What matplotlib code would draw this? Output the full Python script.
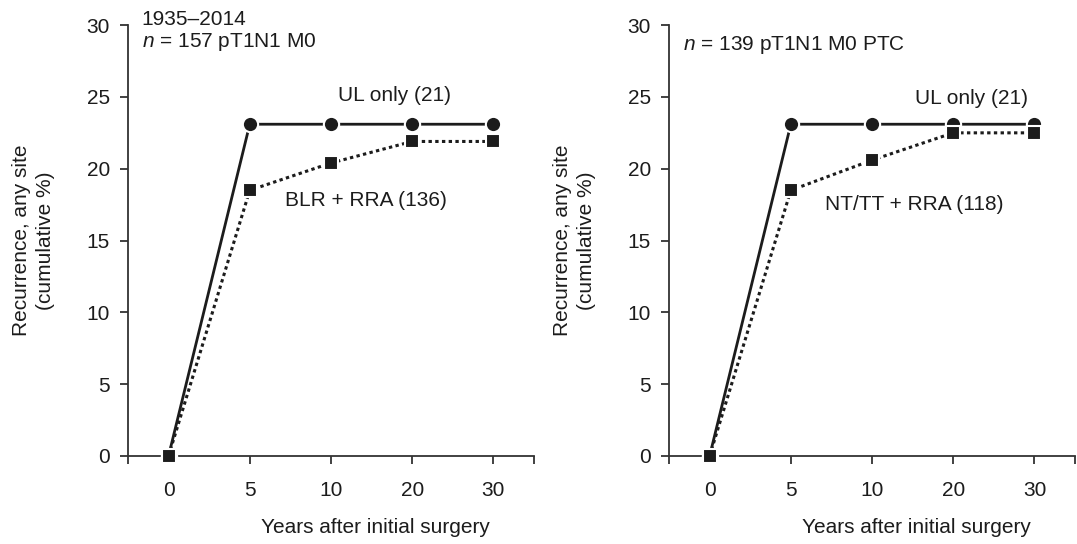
import numpy as np
import matplotlib
matplotlib.use("Agg")
import matplotlib.pyplot as plt

plt.rcParams['font.family'] = ['Liberation Sans', 'DejaVu Sans']
plt.rcParams['mathtext.fontset'] = 'custom'
plt.rcParams['mathtext.it'] = 'Liberation Sans:italic'
plt.rcParams['mathtext.rm'] = 'Liberation Sans'

years = ['0', '5', '10', '20', '30']

# left panel: 1935-2014, n = 157
left_ul = [0, 23.1, 23.1, 23.1, 23.1]
left_blr = [0, 18.5, 20.4, 21.9, 21.9]

# right panel: n = 139 PTC
right_ul = [0, 23.1, 23.1, 23.1, 23.1]
right_nt = [0, 18.5, 20.6, 22.5, 22.5]

ink = '#1c1c1c'
axc = '#333333'
fs = 15

fig = plt.figure(figsize=(10.77, 5.44), dpi=100)
ax1 = fig.add_axes([0.1188, 0.1618, 0.377, 0.792])
ax2 = fig.add_axes([0.6212, 0.1618, 0.377, 0.792])


def draw(ax, ul, other, ul_lab, other_lab, ul_xy, other_xy):
    x = np.arange(len(years))
    ax.plot(x, ul, color=ink, lw=2, marker='o', ms=11, mfc=ink,
            mec='white', mew=1.5, clip_on=False, zorder=3)
    ax.plot(x, other, color=ink, lw=2.2, ls=(0, (1.1, 1.1)), marker='s',
            ms=9.5, mfc=ink, mec='white', mew=1.5, clip_on=False, zorder=4)
    ax.text(*ul_xy, ul_lab, ha='center', va='center', fontsize=fs, color=ink)
    ax.text(*other_xy, other_lab, ha='center', va='center', fontsize=fs,
            color=ink)

    ax.set_xlim(-0.5, 4.5)
    ax.set_ylim(0, 30)
    ax.set_xticks(x)
    ax.set_xticklabels(years)
    ax.set_xticks([-0.5, 4.5], minor=True)
    ax.set_yticks(range(0, 31, 5))
    for s in ['top', 'right']:
        ax.spines[s].set_visible(False)
    for s in ['left', 'bottom']:
        ax.spines[s].set_color(axc)
        ax.spines[s].set_linewidth(1.3)
    ax.tick_params(axis='both', which='both', length=6, width=1.3,
                   color=axc, labelsize=fs, labelcolor=ink)
    ax.tick_params(axis='x', pad=12)
    ax.tick_params(axis='y', pad=7)

    ax.set_xlabel('Years after initial surgery', fontsize=fs, color=ink)
    ax.xaxis.set_label_coords(0.61, -0.143)
    ax.set_ylabel('Recurrence, any site\n(cumulative %)', fontsize=fs,
                  color=ink, linespacing=1.3)
    ax.yaxis.set_label_coords(-0.18, 0.5)


draw(ax1, left_ul, left_blr, 'UL only (21)', 'BLR + RRA (136)',
     (2.78, 25.1), (2.43, 17.8))
draw(ax2, right_ul, right_nt, 'UL only (21)', 'NT/TT + RRA (118)',
     (3.22, 24.9), (2.52, 17.5))

ax1.text(0.034, 1.0, '1935–2014', transform=ax1.transAxes,
         ha='left', va='baseline', fontsize=fs, color=ink)
ax1.text(0.034, 0.949, '$n$ = 157 pT1N1 M0', transform=ax1.transAxes,
         ha='left', va='baseline', fontsize=fs, color=ink)
ax2.text(0.034, 0.942, '$n$ = 139 pT1N1 M0 PTC', transform=ax2.transAxes,
         ha='left', va='baseline', fontsize=fs, color=ink)

fig.savefig('out.png', dpi=100)
